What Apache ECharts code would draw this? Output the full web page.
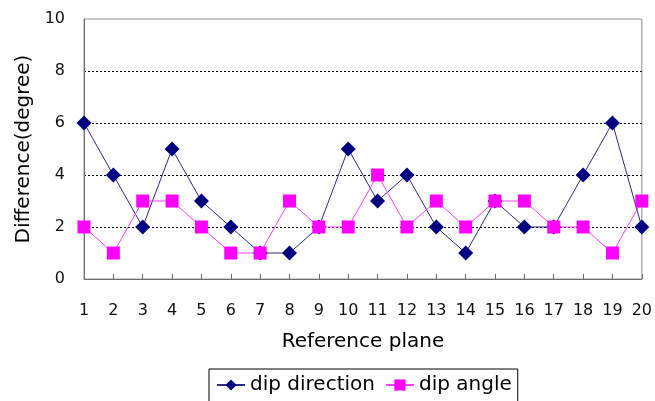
<!DOCTYPE html>
<html><head><meta charset="utf-8">
<script src="https://cdn.jsdelivr.net/npm/echarts@6/dist/echarts.min.js"></script>
<style>html,body{margin:0;padding:0;background:#fff}#c{width:655px;height:401px}</style>
</head><body><div id="c"></div>
<script>
var categories = ['1','2','3','4','5','6','7','8','9','10','11','12','13','14','15','16','17','18','19','20'];
var dipDirection = [6,4,2,5,3,2,1,1,2,5,3,4,2,1,3,2,2,4,6,2];
var dipAngle = [2,1,3,3,2,1,1,3,2,2,4,2,3,2,3,3,2,2,1,3];
var yTicks = [0,2,4,6,8,10];

var font = 'DejaVu Sans, sans-serif';
var chart = echarts.init(document.getElementById('c'), null, {renderer:'canvas'});
chart.setOption({
  animation:false,
  backgroundColor:'#fff',
  grid:{left:84,right:11,top:19,bottom:122,show:true,borderColor:'#909090',borderWidth:1},
  xAxis:{
    type:'category', data:categories, boundaryGap:false,
    name:'Reference plane', nameLocation:'middle', nameGap:53,
    nameTextStyle:{fontFamily:font,fontSize:20,color:'#000'},
    axisLine:{lineStyle:{color:'#707070',width:1}},
    axisTick:{inside:true,length:5,lineStyle:{color:'#707070'},alignWithLabel:true},
    axisLabel:{fontFamily:font,fontSize:16,color:'#111',margin:24,interval:0},
    splitLine:{show:false}
  },
  yAxis:{
    type:'value', min:yTicks[0], max:yTicks[yTicks.length-1], interval:2,
    name:'Difference(degree)', nameLocation:'middle', nameGap:42,
    nameTextStyle:{fontFamily:font,fontSize:20,color:'#000'},
    axisLine:{show:true,lineStyle:{color:'#707070',width:1}},
    axisTick:{show:false},
    axisLabel:{fontFamily:font,fontSize:16,color:'#111',margin:19},
    splitLine:{show:true,showMinLine:false,showMaxLine:false,lineStyle:{color:'#000',type:[2,2],width:1}}
  },
  legend:{
    top:369, left:209, orient:'horizontal',
    borderColor:'#000', borderWidth:1, borderRadius:0,
    padding:[6,6,8,7], itemGap:10, itemWidth:28, itemHeight:14,
    textStyle:{fontFamily:font,fontSize:20,color:'#000'},
    data:['dip direction','dip angle']
  },
  series:[
    {name:'dip direction',type:'line',data:dipDirection,symbol:'diamond',symbolSize:15,
     lineStyle:{color:'#2a2a88',width:1},itemStyle:{color:'#000080'},z:2},
    {name:'dip angle',type:'line',data:dipAngle,symbol:'rect',symbolSize:13,
     lineStyle:{color:'#ff40ff',width:1},itemStyle:{color:'#ff00ff'},z:3}
  ]
});
</script></body></html>
